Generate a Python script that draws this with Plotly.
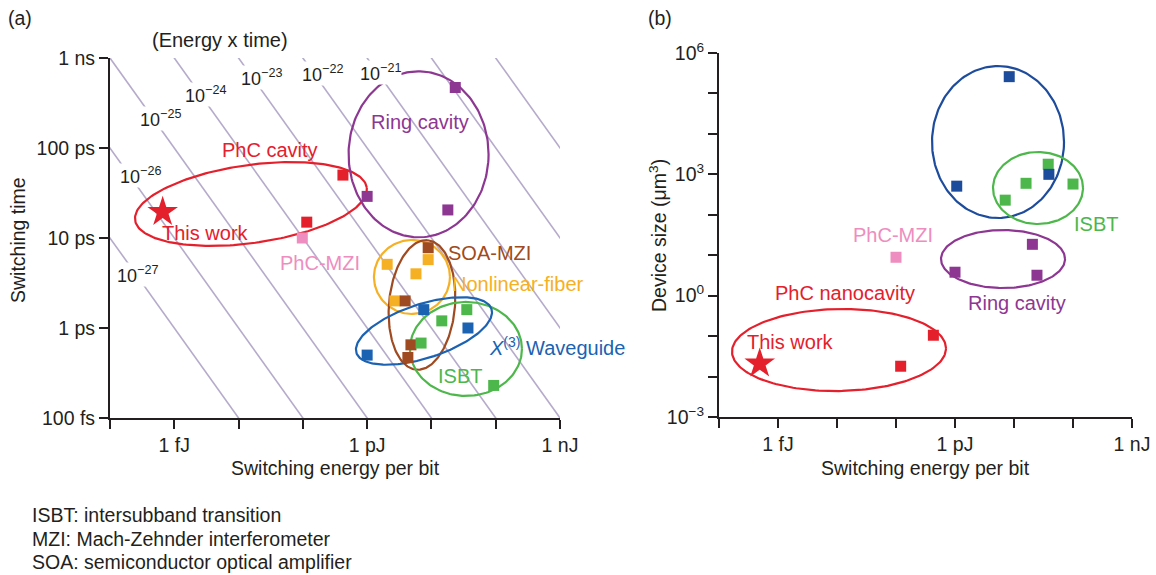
import numpy as np
import plotly.graph_objects as go

W, H = 1156, 575

# ---------------- data: panel (a)  energy [J], switching time [s] ----------------
a_star_E = [6.6e-16]
a_star_t = [1.95e-11]
a_phc_E = [4.2e-13, 1.15e-13]
a_phc_t = [5.0e-11, 1.5e-11]
a_mzi_E = [9.8e-14]
a_mzi_t = [1.0e-11]
a_ring_E = [2.35e-11, 1.0e-12, 1.8e-11]
a_ring_t = [4.7e-10, 2.9e-11, 2.05e-11]
a_soa_E = [8.9e-12, 3.9e-12, 4.8e-12, 4.3e-12]
a_soa_t = [7.8e-12, 2.0e-12, 6.5e-13, 4.7e-13]
a_nlf_E = [2.05e-12, 8.9e-12, 5.75e-12, 2.7e-12]
a_nlf_t = [5.1e-12, 5.75e-12, 4.0e-12, 2.0e-12]
a_x3_E = [7.6e-12, 3.7e-11, 1.0e-12]
a_x3_t = [1.6e-12, 1.0e-12, 5.0e-13]
a_isbt_E = [3.55e-11, 1.45e-11, 6.9e-12, 9.3e-11]
a_isbt_t = [1.6e-12, 1.2e-12, 6.8e-13, 2.3e-13]
# energy x time guide lines [J s]
products = [1e-27, 1e-26, 1e-25, 1e-24, 1e-23, 1e-22, 1e-21, 1e-20, 1e-19]
product_labels = [-27, -26, -25, -24, -23, -22, -21]

# ---------------- data: panel (b)  energy [J], device size [um^3] ----------------
b_star_E = [4.9e-16]
b_star_V = [0.021]
b_phc_E = [4.3e-13, 1.2e-13]
b_phc_V = [0.105, 0.018]
b_mzi_E = [1.0e-13]
b_mzi_V = [8.9]
b_ring_E = [2.05e-11, 1.0e-12, 2.45e-11]
b_ring_V = [18.6, 3.8, 3.2]
b_x3_E = [8.3e-12, 1.07e-12, 3.9e-11]
b_x3_V = [2.6e5, 510, 1000]
b_isbt_E = [3.8e-11, 1.6e-11, 7.1e-12, 1.0e-10]
b_isbt_V = [1780, 600, 230, 575]

# tick labels
xa_tickvals = [10.0 ** k for k in range(-16, -8)]
xa_ticktext = ["", "1 fJ", "", "", "1 pJ", "", "", "1 nJ"]
ya_tickvals = [1e-13, 1e-12, 1e-11, 1e-10, 1e-9]
ya_ticktext = ["100 fs", "1 ps", "10 ps", "100 ps", "1 ns"]
yb_tickvals = [10.0 ** k for k in range(-3, 7)]
yb_ticktext = ["10<sup>\u22123</sup>", "", "", "10<sup>0</sup>", "", "",
               "10<sup>3</sup>", "", "", "10<sup>6</sup>"]

# ---------------- styles ----------------
RED = "#e4202c"
PINK = "#ee8dbf"
PURPLE = "#8d3793"
BROWN = "#9f4a20"
ORANGE = "#f6b024"
BLUE_A = "#1b62b2"
BLUE_B = "#1e4c9c"
GREEN = "#4db74b"
GUIDE = "#b5abca"
BLACK = "#231f20"
FONT = "Liberation Sans, Arial, sans-serif"
FS = 19.5

# layout geometry (pixels)
A_L, A_R, A_T, A_B = 110, 560, 58, 418
B_L, B_R, B_T, B_B = 719, 1132, 53, 417
AX_RANGE = (-16, -9)
AY_RANGE = (-13, -9)
BX_RANGE = (-16, -9)
BY_RANGE = (-3, 6)
a_sx = (A_R - A_L) / (AX_RANGE[1] - AX_RANGE[0])
a_sy = (A_B - A_T) / (AY_RANGE[1] - AY_RANGE[0])
b_sx = (B_R - B_L) / (BX_RANGE[1] - BX_RANGE[0])
b_sy = (B_B - B_T) / (BY_RANGE[1] - BY_RANGE[0])


def ellipse(cx, cy, a, b, ang, sx, sy, n=200):
    t = np.linspace(0, 2 * np.pi, n)
    th = np.deg2rad(ang)
    u, v = a * np.cos(t), b * np.sin(t)
    dx = u * np.cos(th) - v * np.sin(th)
    dy = u * np.sin(th) + v * np.cos(th)
    return 10 ** (cx + dx / sx), 10 ** (cy + dy / sy)


fig = go.Figure()

# guide lines (a)
E_span = np.array([1e-17, 1e-8])
for p in products:
    fig.add_trace(go.Scatter(x=E_span, y=p / E_span, mode="lines",
                             line=dict(color=GUIDE, width=1.6),
                             hoverinfo="skip", showlegend=False, xaxis="x", yaxis="y"))

# ellipses (a): center log10(E), log10(t), semi-axes px, angle deg, color
ell_a = [
    (-13.807, -10.622, 117, 39, 8, RED),
    (-11.2, -10.07, 70, 83, 0, PURPLE),
    (-11.303, -11.433, 38, 37, 0, ORANGE),
    (-11.147, -11.744, 65, 33, 85, BROWN),
    (-10.463, -12.233, 56, 47, 0, GREEN),
    (-11.116, -12.033, 71, 27, 18, BLUE_A),
]
for cx, cy, a, b, ang, col in ell_a:
    ex, ey = ellipse(cx, cy, a, b, ang, a_sx, a_sy)
    fig.add_trace(go.Scatter(x=ex, y=ey, mode="lines", line=dict(color=col, width=2.2),
                             hoverinfo="skip", showlegend=False, xaxis="x", yaxis="y"))

# ellipses (b)
ell_b = [
    (-11.271, 3.799, 66, 76, 0, BLUE_B),
    (-10.593, 2.662, 45, 36, 0, GREEN),
    (-11.186, 0.906, 62, 29, 0, PURPLE),
    (-13.966, -1.344, 107, 41, 1, RED),
]
for cx, cy, a, b, ang, col in ell_b:
    ex, ey = ellipse(cx, cy, a, b, ang, b_sx, b_sy)
    fig.add_trace(go.Scatter(x=ex, y=ey, mode="lines", line=dict(color=col, width=2.2),
                             hoverinfo="skip", showlegend=False, xaxis="x2", yaxis="y2"))

SQ = 11


def squares(x, y, col, xa, ya):
    fig.add_trace(go.Scatter(x=x, y=y, mode="markers",
                             marker=dict(symbol="square", size=SQ, color=col, line=dict(width=0)),
                             showlegend=False, xaxis=xa, yaxis=ya))


squares(a_phc_E, a_phc_t, RED, "x", "y")
squares(a_mzi_E, a_mzi_t, PINK, "x", "y")
squares(a_ring_E, a_ring_t, PURPLE, "x", "y")
squares(a_nlf_E, a_nlf_t, ORANGE, "x", "y")
squares(a_soa_E, a_soa_t, BROWN, "x", "y")
squares(a_isbt_E, a_isbt_t, GREEN, "x", "y")
squares(a_x3_E, a_x3_t, BLUE_A, "x", "y")
fig.add_trace(go.Scatter(x=a_star_E, y=a_star_t, mode="markers",
                         marker=dict(symbol="star", size=23, color=RED, line=dict(width=0)),
                         showlegend=False, xaxis="x", yaxis="y"))

squares(b_phc_E, b_phc_V, RED, "x2", "y2")
squares(b_mzi_E, b_mzi_V, PINK, "x2", "y2")
squares(b_ring_E, b_ring_V, PURPLE, "x2", "y2")
squares(b_isbt_E, b_isbt_V, GREEN, "x2", "y2")
squares(b_x3_E, b_x3_V, BLUE_B, "x2", "y2")
fig.add_trace(go.Scatter(x=b_star_E, y=b_star_V, mode="markers",
                         marker=dict(symbol="star", size=23, color=RED, line=dict(width=0)),
                         showlegend=False, xaxis="x2", yaxis="y2"))

ann = []


def txt(x, y, s, col, size=FS, xref="x", yref="y", **kw):
    d = dict(x=x, y=y, xref=xref, yref=yref, text=s, showarrow=False,
             xanchor="center", yanchor="middle",
             font=dict(family=FONT, size=size, color=col))
    d.update(kw)
    ann.append(d)


# product labels on the guide lines (log10 E, log10 t)
prod_pos = [(-15.58, -11.411), (-15.533, -10.311), (-15.222, -9.667), (-14.522, -9.411),
            (-13.636, -9.222), (-12.687, -9.167), (-11.8, -9.156)]
for k, (px, py) in zip(product_labels, prod_pos):
    txt(px, py, "10<sup>\u2212%d</sup>" % (-k), BLACK, size=18, bgcolor="white", borderpad=0)
txt(220 / W, 1 - 40 / H, "(Energy x time)", BLACK, size=20, xref="paper", yref="paper")

# group labels (a)
txt(-13.511, -10.022, "PhC cavity", RED, size=20)
txt(-14.522, -10.944, "This work", RED, size=20)
txt(-12.733, -11.278, "PhC-MZI", PINK, size=20)
txt(-11.178, -9.711, "Ring cavity", PURPLE, size=20)
txt(-10.089, -11.167, "SOA-MZI", BROWN, size=20)
txt(-9.654, -11.511, "Nonlinear-fiber", ORANGE, size=20)
txt(-9.047, -12.211, "<i>X</i><sup>(3)</sup> Waveguide", BLUE_A, size=20)
txt(-10.556, -12.533, "ISBT", GREEN, size=20)

# group labels (b)
txt(-10.898, 6.124, "<i>X</i><sup>(3)</sup> Waveguide", BLUE_A, size=20, xref="x2", yref="y2")
txt(-9.61, 1.772, "ISBT", GREEN, size=20, xref="x2", yref="y2")
txt(-13.051, 1.5, "PhC-MZI", PINK, size=20, xref="x2", yref="y2")
txt(-10.949, -0.182, "Ring cavity", PURPLE, size=20, xref="x2", yref="y2")
txt(-13.864, 0.065, "PhC nanocavity", RED, size=20, xref="x2", yref="y2")
txt(-14.78, -1.146, "This work", RED, size=20, xref="x2", yref="y2")

# panel letters, axis titles, footnotes
txt(20 / W, 1 - 18 / H, "(a)", BLACK, xref="paper", yref="paper")
txt(660 / W, 1 - 18 / H, "(b)", BLACK, xref="paper", yref="paper")
txt(335 / W, 1 - 468 / H, "Switching energy per bit", BLACK, xref="paper", yref="paper")
txt(925 / W, 1 - 468 / H, "Switching energy per bit", BLACK, xref="paper", yref="paper")
txt(18 / W, 1 - 240 / H, "Switching time", BLACK, xref="paper", yref="paper", textangle=-90)
txt(658 / W, 1 - 235 / H, "Device size (\u03bcm<sup>3</sup>)", BLACK, xref="paper", yref="paper",
    textangle=-90)
for i, s in enumerate(["ISBT: intersubband transition",
                       "MZI: Mach-Zehnder interferometer",
                       "SOA: semiconductor optical amplifier"]):
    txt(30 / W, 1 - (515 + 23.5 * i) / H, s, BLACK, xref="paper", yref="paper", xanchor="left")

axis_common = dict(type="log", showline=True, linewidth=2, linecolor=BLACK, ticks="outside",
                   ticklen=9, tickwidth=2, tickcolor=BLACK, showgrid=False, zeroline=False,
                   automargin=False, tickmode="array",
                   tickfont=dict(family=FONT, size=FS, color=BLACK))

fig.update_layout(
    template="none",
    width=W, height=H, margin=dict(l=0, r=0, t=0, b=0, pad=0), autosize=False,
    paper_bgcolor="white", plot_bgcolor="white", showlegend=False,
    xaxis=dict(axis_common, range=list(AX_RANGE), domain=[A_L / W, A_R / W],
               tickvals=xa_tickvals, ticktext=xa_ticktext, anchor="y"),
    yaxis=dict(axis_common, range=list(AY_RANGE), domain=[1 - A_B / H, 1 - A_T / H],
               tickvals=ya_tickvals, ticktext=ya_ticktext, anchor="x"),
    xaxis2=dict(axis_common, range=list(BX_RANGE), domain=[B_L / W, B_R / W],
                tickvals=xa_tickvals, ticktext=xa_ticktext, anchor="y2"),
    yaxis2=dict(axis_common, range=list(BY_RANGE), domain=[1 - B_B / H, 1 - B_T / H],
                tickvals=yb_tickvals, ticktext=yb_ticktext, anchor="x2"),
    annotations=ann,
)

fig.write_html("out.html", config={"displayModeBar": False},
               post_script="document.body.style.margin='0';document.body.style.overflow='hidden';")
